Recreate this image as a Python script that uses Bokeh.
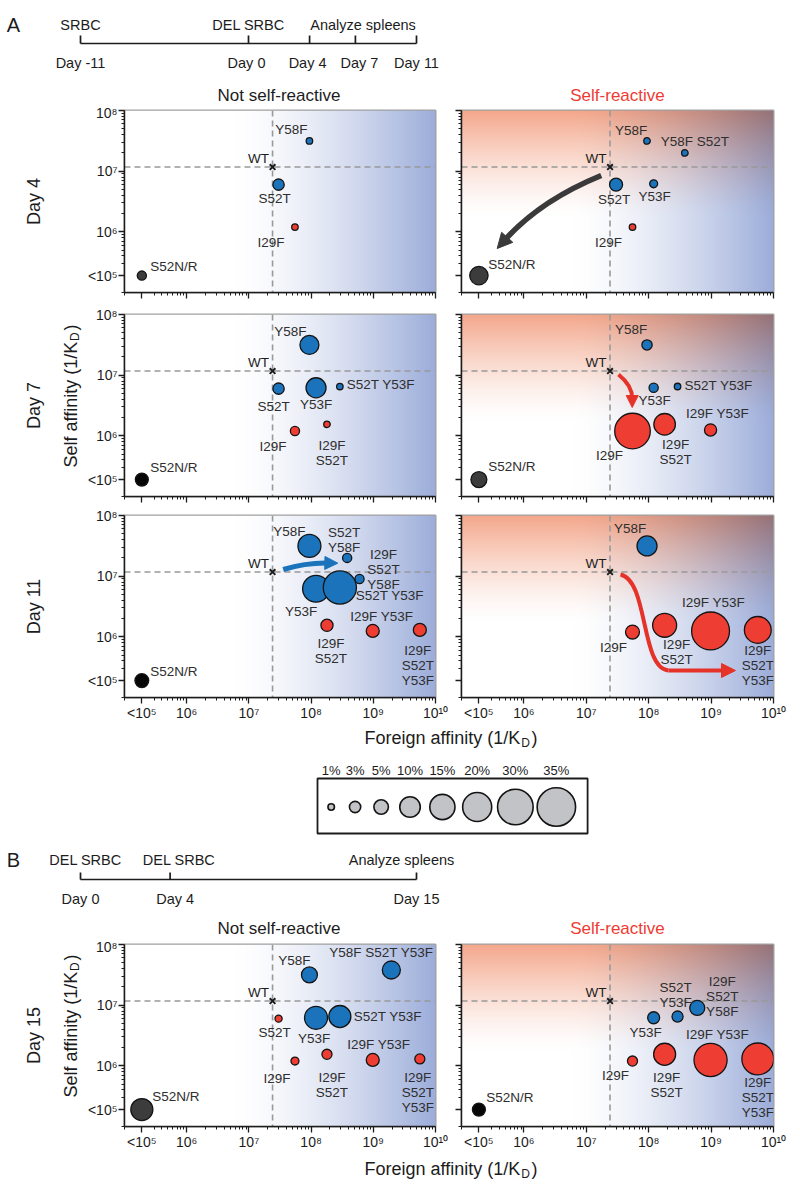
import numpy as np
from bokeh.plotting import figure
from bokeh.layouts import column, row
from bokeh.models import Range1d, FixedTicker, Span, Label, Arrow, NormalHead, ColumnDataSource
from bokeh.core.properties import value
from bokeh.embed import file_html
from bokeh.resources import INLINE

# ---------------- data ----------------
LOW = 1.9e5  # position at which "<10^5" affinities are drawn

MUTANTS = ["WT", "Y58F", "S52T", "I29F", "S52N/R", "Y58F S52T", "Y53F", "S52T Y53F",
           "I29F S52T", "I29F Y53F", "I29F S52T Y58F", "I29F S52T Y53F", "Y58F S52T Y53F"]
FOREIGN_KA = [2.4e7, 9.4e7, 3.0e7, 5.5e7, LOW, 3.8e8, 1.2e8, 2.9e8, 1.8e8, 9.8e8, 6.0e8, 5.6e9, 1.95e9]
SELF_KA = [1.17e7, 3.15e7, 6.0e6, 1.2e6, LOW, 2.0e7, 6.2e6, 6.5e6, 1.55e6, 1.25e6, 9.0e6, 1.3e6, 3.8e7]

# percent of cells per mutant in each panel, colour class b=blue r=red g=dark grey k=black
D4_NSR_MUT = ["S52N/R", "Y58F", "S52T", "I29F"]
D4_NSR_PCT = [2, 1, 3, 1]
D4_NSR_COL = ["g", "b", "b", "r"]
D4_SR_MUT = ["S52N/R", "Y58F", "Y58F S52T", "S52T", "Y53F", "I29F"]
D4_SR_PCT = [8, 1, 1, 4, 1.5, 1]
D4_SR_COL = ["g", "b", "b", "b", "b", "r"]
D7_NSR_MUT = ["S52N/R", "Y58F", "S52T", "Y53F", "S52T Y53F", "I29F", "I29F S52T"]
D7_NSR_PCT = [4, 8.5, 3, 9.5, 1, 2, 1]
D7_NSR_COL = ["k", "b", "b", "b", "b", "r", "r"]
D7_SR_MUT = ["S52N/R", "Y58F", "Y53F", "S52T Y53F", "I29F", "I29F S52T", "I29F Y53F"]
D7_SR_PCT = [6, 2.5, 2, 1, 30, 11, 3.5]
D7_SR_COL = ["g", "b", "b", "b", "r", "r", "r"]
D11_NSR_MUT = ["S52N/R", "Y58F", "Y58F S52T", "I29F S52T Y58F", "Y53F", "S52T Y53F",
               "I29F S52T", "I29F Y53F", "I29F S52T Y53F"]
D11_NSR_PCT = [4.5, 12.5, 2, 2, 17, 26, 3.5, 4, 4]
D11_NSR_COL = ["k", "b", "b", "b", "b", "b", "r", "r", "r"]
D11_SR_MUT = ["Y58F", "I29F", "I29F S52T", "I29F Y53F", "I29F S52T Y53F"]
D11_SR_PCT = [9.5, 4.6, 13.6, 34, 17]
D11_SR_COL = ["b", "r", "r", "r", "r"]
D15_NSR_MUT = ["S52N/R", "Y58F", "Y58F S52T Y53F", "S52T", "Y53F", "S52T Y53F",
               "I29F", "I29F S52T", "I29F Y53F", "I29F S52T Y53F"]
D15_NSR_PCT = [11.5, 6, 7.7, 1.2, 12.5, 11.5, 1.5, 2.4, 4, 2.4]
D15_NSR_COL = ["g", "b", "b", "r", "b", "b", "r", "r", "r", "r"]
D15_SR_MUT = ["S52N/R", "Y53F", "S52T Y53F", "I29F S52T Y58F", "I29F", "I29F S52T", "I29F Y53F", "I29F S52T Y53F"]
D15_SR_PCT = [4, 3.4, 2.9, 5.3, 2.4, 11.5, 26, 24]
D15_SR_COL = ["k", "b", "b", "b", "r", "r", "r", "r"]

LEGEND_PCT = [1, 3, 5, 10, 15, 20, 30, 35]

TIMELINE_A_DAYS = [-11, 0, 4, 7, 11]
TIMELINE_A_EVENTS = ["SRBC", "DEL SRBC", "Analyze spleens"]
TIMELINE_A_EVENT_DAYS = [-11, 0, 7.5]
TIMELINE_B_DAYS = [0, 4, 15]
TIMELINE_B_EVENTS = ["DEL SRBC", "DEL SRBC", "Analyze spleens"]
TIMELINE_B_EVENT_DAYS = [0, 4, 15]

ROW_LABELS_A = ["Day 4", "Day 7", "Day 11"]
ROW_LABEL_B = "Day 15"
PANEL_TITLES = ["Not self-reactive", "Self-reactive"]

# ---------------- label layout (text, dx px, dy px) ----------------
D4_NSR_LBL = [("S52N/R", 32, -9), ("Y58F", -18, -11), ("S52T", -4, 14), ("I29F", -24, 15)]
D4_SR_LBL = [("S52N/R", 33, -11), ("Y58F", -16, -10), ("Y58F S52T", 10, -11), ("S52T", -2, 15),
             ("Y53F", 1, 13), ("I29F", -24, 15)]
D7_NSR_LBL = [("S52N/R", 32, -12), ("Y58F", -19, -13), ("S52T", -5, 18), ("Y53F", 0, 17),
              ("S52T Y53F", 41, -2), ("I29F", -22, 15), ("I29F\nS52T", 5, 29)]
D7_SR_LBL = [("S52N/R", 33, -13), ("Y58F", -16, -15), ("Y53F", 1, 13), ("S52T Y53F", 41, -1),
             ("I29F", -23, 24), ("I29F\nS52T", 11, 28), ("I29F Y53F", 7, -16)]
D11_NSR_LBL = [("S52N/R", 32, -9), ("Y58F", -20, -14), ("S52T\nY58F", -3, -18), ("I29F\nS52T\nY58F", 24, -9),
               ("Y53F", -15, 23), ("S52T Y53F", 50, 8), ("I29F\nS52T", 4, 26), ("I29F Y53F", 9, -14),
               ("I29F\nS52T\nY53F", -2, 36)]
D11_SR_LBL = [("Y58F", -17, -17), ("I29F", -19, 15), ("I29F\nS52T", 12, 27), ("I29F Y53F", 3, -28),
              ("I29F\nS52T\nY53F", 0, 36)]
D15_NSR_LBL = [("S52N/R", 34, -13), ("Y58F", -15, -14), ("Y58F S52T Y53F", -10, -17), ("S52T", -4, 14),
               ("Y53F", -2, 21), ("S52T Y53F", 48, 0), ("I29F", -18, 17), ("I29F\nS52T", 5, 31),
               ("I29F Y53F", 6, -15), ("I29F\nS52T\nY53F", -2, 34)]
D15_SR_LBL = [("S52N/R", 31, -12), ("Y53F", -8, 15), ("S52T\nY53F", -2, -22), ("I29F\nS52T\nY58F", 25, -11),
              ("I29F", -17, 14), ("I29F\nS52T", 2, 31), ("I29F Y53F", 7, -25), ("I29F\nS52T\nY53F", 0, 39)]

# ---------------- style ----------------
FONT = "Liberation Sans"
INK = "#1c1c1c"
TXT = "#2e2e2e"
RED_TITLE = "#ee3b33"
COLMAP = {"b": "#1b74bb", "r": "#ee3d32", "g": "#3c3c3c", "k": "#060606"}
SIZE_K = 6.5  # circle diameter (px) per sqrt(percent)

SUP = str.maketrans("0123456789", "⁰¹²³⁴⁵⁶⁷⁸⁹")


def pw(e):
    return "10" + str(e).translate(SUP)


X_MAJOR = [LOW] + [10.0 ** e for e in range(6, 11)]
Y_MAJOR = [LOW] + [10.0 ** e for e in range(6, 9)]
X_MINOR = [1e5] + [float(k * 10 ** e) for e in range(5, 10) for k in range(2, 10) if not (e == 5 and k == 2)]
Y_MINOR = [1e5] + [float(k * 10 ** e) for e in range(5, 8) for k in range(2, 10) if not (e == 5 and k == 2)]
X_LABELS = {LOW: "<" + pw(5)}
X_LABELS.update({10.0 ** e: pw(e) for e in range(6, 11)})
Y_LABELS = {LOW: "<" + pw(5)}
Y_LABELS.update({10.0 ** e: pw(e) for e in range(6, 9)})

# page geometry (px)
PAGE_W = 800
SIDE_W = 84                     # column holding the row labels
LW, LB, LR = 364, 38, 13        # left panels: frame x 122..435
RW, RB_, RR = 352, 13, 27       # right panels: frame x 461..773
FRAME_H = 182


def grad_image(w, h, self_reactive):
    xs = np.linspace(0, 1, w)[None, :]
    ys = np.linspace(0, 1, h)[:, None]
    t = np.clip((xs - 0.36) / 0.64, 0, 1) ** 1.5
    blue = np.array([156, 173, 218], dtype=float)
    rgb = 255 - (255 - blue)[None, None, :] * t[..., None]
    rgb = np.broadcast_to(rgb, (h, w, 3)).copy()
    if self_reactive:
        s = np.clip((ys - 0.42) / 0.58, 0, 1) ** 1.4
        orange = np.array([244, 168, 140], dtype=float)
        layer = 255 - (255 - orange)[None, None, :] * s[..., None]
        rgb = rgb * layer / 255.0
    img = np.empty((h, w), dtype=np.uint32)
    v = img.view(dtype=np.uint8).reshape((h, w, 4))
    v[..., :3] = np.clip(rgb, 0, 255).astype(np.uint8)
    v[..., 3] = 255
    return img


def add_arrow(p, pts, head_px, color, width):
    # pts in log10 units: start, control(s)..., tip ; shaft stops short of tip
    pts = [np.array(q, dtype=float) for q in pts]
    tip = pts[-1]
    prev = pts[-2]
    scale = np.array([62.5, 60.7])
    d = (tip - prev) * scale
    u = d / np.hypot(*d)
    shaft_end = tip - u * (head_px * 0.75) / scale
    P = lambda q: (10 ** q[0], 10 ** q[1])
    if len(pts) == 3:
        s, c = P(pts[0]), P(pts[1])
        e = P(shaft_end)
        p.quadratic(x0=[s[0]], y0=[s[1]], x1=[e[0]], y1=[e[1]], cx=[c[0]], cy=[c[1]],
                    line_color=color, line_width=width)
    else:
        s, c0, c1, m = P(pts[0]), P(pts[1]), P(pts[2]), P(pts[3])
        e = P(shaft_end)
        p.bezier(x0=[s[0]], y0=[s[1]], x1=[m[0]], y1=[m[1]], cx0=[c0[0]], cy0=[c0[1]],
                 cx1=[c1[0]], cy1=[c1[1]], line_color=color, line_width=width)
        p.segment(x0=[m[0]], y0=[m[1]], x1=[e[0]], y1=[e[1]], line_color=color, line_width=width)
    t = P(tip)
    e = P(shaft_end)
    p.add_layout(Arrow(end=NormalHead(size=head_px, fill_color=color, line_color=color, line_width=1),
                       x_start=e[0], y_start=e[1], x_end=t[0], y_end=t[1], line_color=None))


def make_panel(mut, pct, col, lbl, width, bl, br, bt, bb, sr, xlabels, ylabels):
    height = bt + FRAME_H + bb
    p = figure(width=width, height=height, x_axis_type="log", y_axis_type="log",
               x_range=Range1d(1e5, 1e10), y_range=Range1d(1e5, 1e8),
               min_border_left=bl, min_border_right=br, min_border_top=bt, min_border_bottom=bb,
               toolbar_location=None, output_backend="svg")
    fw, fh = width - bl - br, FRAME_H
    p.image_rgba(image=[grad_image(fw, fh, sr)], x=1e5, y=1e5, dw=1e10 - 1e5, dh=1e8 - 1e5, level="image")
    wt_f, wt_s = FOREIGN_KA[0], SELF_KA[0]
    p.add_layout(Span(location=wt_f, dimension="height", line_color="#999999", line_width=1.6,
                      line_dash="6 4", level="underlay"))
    p.add_layout(Span(location=wt_s, dimension="width", line_color="#999999", line_width=1.6,
                      line_dash="6 4", level="underlay"))
    idx = [MUTANTS.index(m) for m in mut]
    src = ColumnDataSource(dict(
        x=[FOREIGN_KA[i] for i in idx], y=[SELF_KA[i] for i in idx],
        size=[SIZE_K * np.sqrt(v) for v in pct], color=[COLMAP[c] for c in col],
        txt=[l[0] for l in lbl], dx=[l[1] for l in lbl], dy=[l[2] for l in lbl]))
    p.scatter("x", "y", size="size", fill_color="color", line_color="#141414", line_width=1.3, source=src)
    p.scatter([wt_f], [wt_s], marker="x", size=8, line_width=2, line_color=INK)
    p.text("x", "y", text="txt", x_offset="dx", y_offset="dy", text_align="center", text_baseline="middle",
           text_font=value(FONT), text_font_size="13.5px", text_color=TXT, text_line_height=1.0, source=src)
    p.text([wt_f], [wt_s], text=["WT"], x_offset=-14, y_offset=-9, text_align="center", text_baseline="middle",
           text_font=value(FONT), text_font_size="13.5px", text_color=INK)
    p.grid.visible = False
    p.background_fill_color = "white"
    p.border_fill_color = "white"
    p.outline_line_color = "#a0a0a0"
    p.outline_line_width = 2
    p.xaxis.ticker = FixedTicker(ticks=X_MAJOR, minor_ticks=X_MINOR)
    p.yaxis.ticker = FixedTicker(ticks=Y_MAJOR, minor_ticks=Y_MINOR)
    for ax, show, labels in [(p.xaxis[0], xlabels, X_LABELS), (p.yaxis[0], ylabels, Y_LABELS)]:
        ax.axis_line_color = INK
        ax.axis_line_width = 1.5
        ax.major_tick_line_color = INK
        ax.major_tick_line_width = 1.3
        ax.major_tick_in = 0
        ax.major_tick_out = 6
        ax.minor_tick_line_color = INK
        ax.minor_tick_line_width = 1
        ax.minor_tick_in = 0
        ax.minor_tick_out = 3
        ax.major_label_text_font = FONT
        ax.major_label_text_color = INK
        if show:
            ax.major_label_overrides = labels
            ax.major_label_text_font_size = "14px"
            ax.major_label_standoff = 1
        else:
            ax.major_label_overrides = {k: "" for k in labels}
            ax.major_label_text_font_size = "1px"
            ax.major_label_standoff = 0
    return p


def page_fig(left, top, width, height):
    """Figure whose data coordinates equal page pixels (y pointing down as negative values)."""
    p = figure(width=width, height=height, x_range=Range1d(left, left + width),
               y_range=Range1d(-(top + height), -top), min_border=0, x_axis_location=None,
               y_axis_location=None, toolbar_location=None, output_backend="svg", outline_line_color=None)
    p.grid.visible = False
    return p


def ptext(p, x, y, text, size="18px", color=INK, align="center", angle=0.0, baseline="middle"):
    p.text(x=[x], y=[-y], text=[text], text_align=align, text_baseline=baseline, angle=angle,
           text_font=value(FONT), text_font_size=size, text_color=color)


def self_affinity_label(p, x, y_bottom):
    w_main = 7003 * 18 / 1000.0
    ptext(p, x, y_bottom, "Self affinity (1/K", angle=np.pi / 2, align="left")
    ptext(p, x + 4, y_bottom - w_main - 0.5, "D", size="12px", angle=np.pi / 2, align="left")
    ptext(p, x, y_bottom - w_main - 11, ")", angle=np.pi / 2, align="left")


def foreign_label(p, y):
    x0 = 364
    w_main = 8670 * 18 / 1000.0
    ptext(p, x0, y, "Foreign affinity (1/K", align="left")
    ptext(p, x0 + w_main + 0.8, y + 5, "D", size="12px", align="left")
    ptext(p, x0 + w_main + 11, y, ")", align="left")


def make_timeline(days, events, ev_days, ev_off, day_off, letter, top, height, line_y, tick_top, ev_y, day_y,
                  title_y):
    ppd = (416 - 80) / float(days[-1] - days[0])
    start = days[0] - 80 / ppd
    end = start + PAGE_W / ppd
    p = figure(width=PAGE_W, height=height, x_range=Range1d(start, end), y_range=Range1d(-(top + height), -top),
               min_border=0, x_axis_location=None, y_axis_location=None, toolbar_location=None,
               output_backend="svg", outline_line_color=None)
    p.grid.visible = False
    n = len(days)
    p.segment(x0=[days[0]], y0=[-line_y], x1=[days[-1]], y1=[-line_y], line_color=INK, line_width=1.7)
    p.segment(x0=days, y0=[-tick_top] * n, x1=days, y1=[-line_y] * n, line_color=INK, line_width=1.7)
    p.text(x=ev_days, y=[-ev_y] * len(events), text=events, x_offset=ev_off, text_align="center",
           text_baseline="middle", text_font=value(FONT), text_font_size="14.5px", text_color=INK)
    p.text(x=days, y=[-day_y] * n, text=["Day %d" % d for d in days], x_offset=day_off,
           text_align="center", text_baseline="middle", text_font=value(FONT), text_font_size="14.5px",
           text_color=INK)
    p.add_layout(Label(x=13, y=-ev_y, x_units="screen", y_units="data", text=letter, text_font=FONT,
                       text_font_size="20px", text_color=INK, text_align="center", text_baseline="middle"))
    # panel titles (centred over the two frames)
    for title, xc, colr in [(PANEL_TITLES[0], 278.5, INK), (PANEL_TITLES[1], 617, RED_TITLE)]:
        xd = start + xc / ppd
        p.text(x=[xd], y=[-title_y], text=[title], text_align="center", text_baseline="middle",
               text_font=value(FONT), text_font_size="17px", text_color=colr)
    return p


# ---------------- block A ----------------
ta = make_timeline(TIMELINE_A_DAYS, TIMELINE_A_EVENTS, TIMELINE_A_EVENT_DAYS, [0, 0, 0], [0, -2, -2, 4, 0],
                   "A", 0, 104, 43, 35, 24, 62, 95)

p1 = make_panel(D4_NSR_MUT, D4_NSR_PCT, D4_NSR_COL, D4_NSR_LBL, LW, LB, LR, 6, 11, False, False, True)
p2 = make_panel(D4_SR_MUT, D4_SR_PCT, D4_SR_COL, D4_SR_LBL, RW, RB_, RR, 6, 11, True, False, False)
p3 = make_panel(D7_NSR_MUT, D7_NSR_PCT, D7_NSR_COL, D7_NSR_LBL, LW, LB, LR, 11, 10, False, False, True)
p4 = make_panel(D7_SR_MUT, D7_SR_PCT, D7_SR_COL, D7_SR_LBL, RW, RB_, RR, 11, 10, True, False, False)
p5 = make_panel(D11_NSR_MUT, D11_NSR_PCT, D11_NSR_COL, D11_NSR_LBL, LW, LB, LR, 9, 29, False, True, True)
p6 = make_panel(D11_SR_MUT, D11_SR_PCT, D11_SR_COL, D11_SR_LBL, RW, RB_, RR, 9, 29, True, True, False)

add_arrow(p2, [(7.239, 6.929), (6.261, 6.517), (5.572, 5.725)], 15, "#3a3a3a", 5.5)
add_arrow(p4, [(7.516, 7.011), (7.736, 6.830), (7.736, 6.467)], 12, "#e5332a", 4)
add_arrow(p5, [(7.551, 7.110), (7.923, 7.225), (8.430, 7.214)], 13, "#1b74bb", 5)
add_arrow(p6, [(7.548, 7.028), (7.997, 6.929), (7.869, 5.478), (8.317, 5.445), (9.391, 5.445)], 14, "#e5332a", 4)

side_a = page_fig(0, 104, SIDE_W, 199 + 203 + 220)
for lab, yc in zip(ROW_LABELS_A, [201, 405, 606]):
    ptext(side_a, 33, yc, lab, angle=np.pi / 2)
self_affinity_label(side_a, 70, 467)

block_a = row(side_a, column(row(p1, p2), row(p3, p4), row(p5, p6)))

# ---------------- legend ----------------
leg = page_fig(0, 726, PAGE_W, 119)
foreign_label(leg, 737)
d = SIZE_K * np.sqrt(np.array(LEGEND_PCT, dtype=float))
gaps = np.linspace(15, 4, len(d) - 1)
xs = [330.7]
for i in range(1, len(d)):
    xs.append(xs[-1] + (d[i - 1] + d[i]) / 2 + gaps[i - 1])
leg.quad(left=[317], right=[xs[-1] + d[-1] / 2 + 12], top=[-778], bottom=[-833], fill_color=None,
         line_color=INK, line_width=1.8)
leg.scatter(x=xs, y=[-806.5] * len(d), size=d, fill_color="#c2c3c6", line_color="#141414", line_width=1.6)
leg.text(x=xs, y=[-770] * len(d), text=["%d%%" % v for v in LEGEND_PCT], text_align="center",
         text_baseline="middle", text_font=value(FONT), text_font_size="13px", text_color=INK)

# ---------------- block B ----------------
tb = make_timeline(TIMELINE_B_DAYS, TIMELINE_B_EVENTS, TIMELINE_B_EVENT_DAYS, [5, 9, -15], [0, 5, 0],
                   "B", 845, 93, 879, 872, 859, 898, 928)
p7 = make_panel(D15_NSR_MUT, D15_NSR_PCT, D15_NSR_COL, D15_NSR_LBL, LW, LB, LR, 6, 29, False, True, True)
p8 = make_panel(D15_SR_MUT, D15_SR_PCT, D15_SR_COL, D15_SR_LBL, RW, RB_, RR, 6, 29, True, True, False)
side_b = page_fig(0, 938, SIDE_W, 217)
ptext(side_b, 33, 1035, ROW_LABEL_B, angle=np.pi / 2)
self_affinity_label(side_b, 70, 1097)
block_b = row(side_b, row(p7, p8))

xb = page_fig(0, 1155, PAGE_W, 28)
foreign_label(xb, 1168)

layout = column(ta, block_a, leg, tb, block_b, xb)
open("out.html", "w").write(file_html(layout, INLINE))
